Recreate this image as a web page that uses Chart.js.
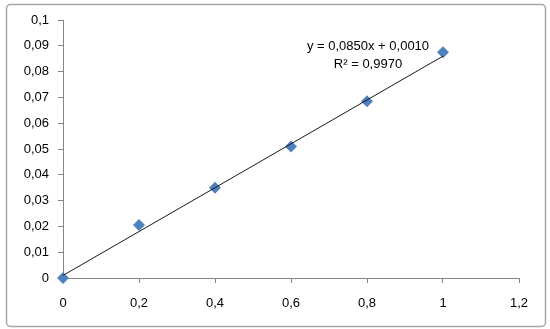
<!DOCTYPE html>
<html>
<head>
<meta charset="utf-8">
<script src="https://cdn.jsdelivr.net/npm/chart.js@4/dist/chart.umd.min.js"></script>
<style>
  html, body { margin: 0; padding: 0; background: #fff; }
  #wrap { width: 550px; height: 329px; position: relative; }
</style>
</head>
<body>
<div id="wrap"><canvas id="bieuDo" width="550" height="329"></canvas></div>
<script>
// nong do (x) va do hap thu (y)
const nongDo = [0, 0.2, 0.4, 0.6, 0.8, 1.0];
const hapThu = [0, 0.0205, 0.035, 0.051, 0.0685, 0.0875];

// duong xu huong tu phuong trinh tren hinh
const heSoA = 0.0850;
const heSoB = 0.0010;
const xXuHuong = [0, 1];

const phuongTrinh = ['y = 0,0850x + 0,0010', 'R² = 0,9970'];

const soPhay = v => String(Math.round(v * 1000) / 1000).replace('.', ',');
const phongChu = '"Liberation Sans", Arial, sans-serif';

const khungNgoai = {
    id: 'khungNgoai',
    beforeDraw(chart) {
        const ctx = chart.ctx;
        ctx.save();
        ctx.fillStyle = '#fff';
        ctx.fillRect(0, 0, chart.width, chart.height);
        ctx.strokeStyle = '#a6a6a6';
        ctx.lineWidth = 1.5;
        ctx.beginPath();
        ctx.roundRect(6.5, 4.5, 539, 322, 4);
        ctx.stroke();
        ctx.restore();
    },
    afterDatasetsDraw(chart) {
        const ctx = chart.ctx;
        ctx.save();
        ctx.fillStyle = '#000';
        ctx.font = '13px ' + phongChu;
        ctx.textAlign = 'center';
        ctx.textBaseline = 'middle';
        ctx.fillText(phuongTrinh[0], 368, 46);
        ctx.fillText(phuongTrinh[1], 368, 64);
        ctx.restore();
    }
};

const ctx = document.getElementById('bieuDo').getContext('2d');
new Chart(ctx, {
    type: 'scatter',
    data: {
        datasets: [
            {
                data: nongDo.map((x, i) => ({ x: x, y: hapThu[i] })),
                pointStyle: 'rectRot',
                pointRadius: 6,
                backgroundColor: '#4f81bd',
                borderColor: '#4f81bd',
                borderWidth: 0,
                clip: false,
                order: 2
            },
            {
                type: 'line',
                data: xXuHuong.map(x => ({ x: x, y: heSoA * x + heSoB })),
                borderColor: '#1a1a1a',
                borderWidth: 1,
                pointRadius: 0,
                fill: false,
                clip: false,
                order: 1
            }
        ]
    },
    options: {
        responsive: false,
        animation: false,
        layout: { padding: { top: 20, right: 31, left: 0, bottom: 0 } },
        plugins: {
            legend: { display: false },
            tooltip: { enabled: false }
        },
        scales: {
            x: {
                type: 'linear',
                min: 0,
                max: 1.2,
                afterFit(scale) { scale.height = 51; },
                ticks: {
                    stepSize: 0.2,
                    color: '#000',
                    padding: 13,
                    font: { family: phongChu, size: 13 },
                    callback: v => soPhay(v)
                },
                grid: {
                    drawOnChartArea: false,
                    tickLength: 5,
                    color: '#868686'
                },
                border: { color: '#868686' }
            },
            y: {
                min: 0,
                max: 0.1,
                afterFit(scale) { scale.width = 63; },
                ticks: {
                    stepSize: 0.01,
                    color: '#000',
                    padding: 9,
                    font: { family: phongChu, size: 13 },
                    callback: v => soPhay(v)
                },
                grid: {
                    drawOnChartArea: false,
                    tickLength: 5,
                    color: '#868686'
                },
                border: { color: '#868686' }
            }
        }
    },
    plugins: [khungNgoai]
});
</script>
</body>
</html>
